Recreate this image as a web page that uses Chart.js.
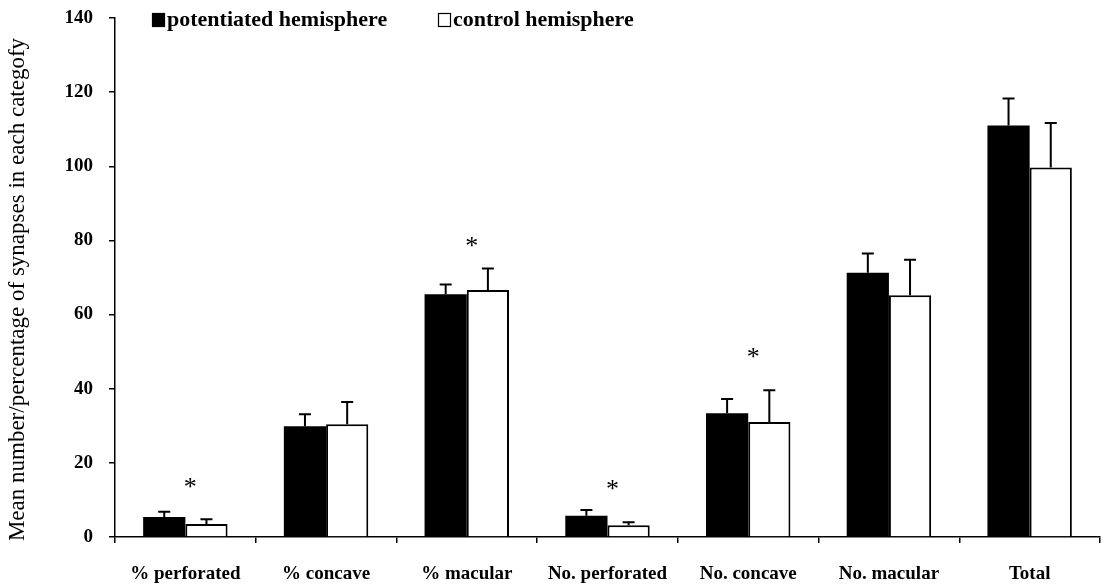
<!DOCTYPE html>
<html>
<head>
<meta charset="utf-8">
<script src="https://cdn.jsdelivr.net/npm/chart.js@4/dist/chart.umd.min.js"></script>
<style>
  html, body { margin: 0; padding: 0; background: #fff; }
  #wrap { width: 1107px; height: 586px; }
</style>
</head>
<body>
<div id="wrap"><canvas id="synChart" width="1107" height="586"></canvas></div>
<script>
(function(){
  'use strict';

  // categorias y medias por hemisferio
  const categories = ['% perforated', '% concave', '% macular', 'No. perforated', 'No. concave', 'No. macular', 'Total'];
  const potentiated = [5.4, 29.9, 65.5, 5.7, 33.4, 71.3, 111.0];
  const control = [3.5, 30.4, 66.6, 3.2, 31.0, 65.2, 99.7];
  // error estandar (solo hacia arriba)
  const potentiatedErr = [1.4, 3.2, 2.6, 1.6, 3.8, 5.2, 7.3];
  const controlErr = [1.3, 6.0, 5.8, 0.8, 8.6, 9.6, 12.0];
  // asteriscos de significancia: categoria y altura
  const starCategories = [0, 2, 3, 4];
  const starLevels = [14.5, 79.5, 14, 49.5];
  const yTicks = [0, 20, 40, 60, 80, 100, 120, 140];
  const yTitle = 'Mean number/percentage of synapses in each categofy';

  const SERIF = '"Liberation Serif", "DejaVu Serif", serif';

  const errorBars = {
    id: 'errorBars',
    afterDatasetsDraw(chart){
      const ctx = chart.ctx, y = chart.scales.y;
      const errs = [potentiatedErr, controlErr];
      ctx.save();
      ctx.strokeStyle = '#000';
      ctx.lineWidth = 2;
      chart.data.datasets.forEach((ds, di) => {
        chart.getDatasetMeta(di).data.forEach((bar, i) => {
          const top = y.getPixelForValue(ds.data[i] + errs[di][i]);
          ctx.beginPath();
          ctx.moveTo(bar.x, bar.y);
          ctx.lineTo(bar.x, top);
          ctx.moveTo(bar.x - 6, top);
          ctx.lineTo(bar.x + 6, top);
          ctx.stroke();
        });
      });
      ctx.restore();
    }
  };

  const stars = {
    id: 'stars',
    afterDraw(chart){
      const ctx = chart.ctx, x = chart.scales.x, y = chart.scales.y;
      ctx.save();
      ctx.fillStyle = '#000';
      ctx.font = '26px ' + SERIF;
      ctx.textAlign = 'center';
      ctx.textBaseline = 'middle';
      starCategories.forEach((c, k) => {
        ctx.fillText('*', x.getPixelForValue(c) + 5, y.getPixelForValue(starLevels[k]) + 5);
      });
      ctx.restore();
    }
  };

  // titulo del eje Y, un poco bajo el centro del area
  const sideTitle = {
    id: 'sideTitle',
    afterDraw(chart){
      const ctx = chart.ctx, a = chart.chartArea;
      ctx.save();
      ctx.translate(18, (a.top + a.bottom) / 2 + 12);
      ctx.rotate(-Math.PI / 2);
      ctx.font = '23px ' + SERIF;
      ctx.fillStyle = '#000';
      ctx.textAlign = 'center';
      ctx.textBaseline = 'middle';
      ctx.fillText(yTitle, 0, 0);
      ctx.restore();
    }
  };

  // leyenda propia arriba del area
  const topLegend = {
    id: 'topLegend',
    afterDraw(chart){
      const ctx = chart.ctx;
      const items = [
        { x: 152, ds: chart.data.datasets[0] },
        { x: 438, ds: chart.data.datasets[1] }
      ];
      ctx.save();
      ctx.font = 'bold 22px ' + SERIF;
      ctx.textBaseline = 'middle';
      items.forEach(it => {
        ctx.fillStyle = it.ds.backgroundColor;
        ctx.fillRect(it.x, 13, 13, 14);
        ctx.strokeStyle = '#000';
        ctx.lineWidth = 1.2;
        ctx.strokeRect(it.x + 0.5, 13.5, 12, 13);
        ctx.fillStyle = '#000';
        ctx.fillText(it.ds.label, it.x + 15, 20);
      });
      ctx.restore();
    }
  };

  new Chart(document.getElementById('synChart'), {
    type: 'bar',
    data: {
      labels: categories,
      datasets: [
        { label: 'potentiated hemisphere', data: potentiated, backgroundColor: '#000', borderWidth: 0 },
        { label: 'control hemisphere', data: control, backgroundColor: '#fff', borderColor: '#000', borderWidth: 2, borderSkipped: 'start' }
      ]
    },
    options: {
      responsive: false,
      animation: false,
      devicePixelRatio: 1,
      layout: { padding: { top: 18, right: 7, bottom: 0, left: 0 } },
      datasets: { bar: { categoryPercentage: 0.6, barPercentage: 1.0 } },
      plugins: { legend: { display: false }, tooltip: { enabled: false } },
      scales: {
        x: {
          grid: { offset: true, drawOnChartArea: false, drawTicks: true, tickLength: 6, color: '#000', lineWidth: 1.5 },
          border: { display: true, color: '#000', width: 1.5 },
          ticks: { color: '#000', font: { family: SERIF, size: 19, weight: 'bold' }, padding: 20, maxRotation: 0 },
          afterFit(s){ s.height = 49; s.paddingLeft = 0; s.paddingRight = 0; }
        },
        y: {
          min: 0, max: 140,
          afterBuildTicks(s){ s.ticks = yTicks.map(v => ({ value: v })); },
          grid: { drawOnChartArea: false, drawTicks: true, tickLength: 6, color: '#000', lineWidth: 1.5 },
          border: { display: true, color: '#000', width: 1.5 },
          ticks: { color: '#000', font: { family: SERIF, size: 19, weight: 'bold' }, padding: 16 },
          afterFit(s){ s.width = 115; s.paddingTop = 0; s.paddingBottom = 0; }
        }
      }
    },
    plugins: [errorBars, stars, sideTitle, topLegend]
  });
})();
</script>
</body>
</html>
